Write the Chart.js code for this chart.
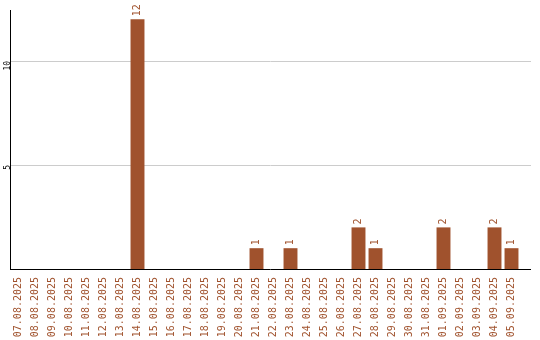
<!DOCTYPE html>
<html>
<head>
<meta charset="utf-8">
<script src="https://cdn.jsdelivr.net/npm/chart.js@4/dist/chart.umd.min.js"></script>
<style>
  html, body { margin: 0; padding: 0; background: #fff; }
  #wrap { width: 540px; height: 340px; position: relative; }
</style>
</head>
<body>
<div id="wrap"><canvas id="chart"></canvas></div>
<script>
const days = ['07.08.2025', '08.08.2025', '09.08.2025', '10.08.2025', '11.08.2025',
  '12.08.2025', '13.08.2025', '14.08.2025', '15.08.2025', '16.08.2025',
  '17.08.2025', '18.08.2025', '19.08.2025', '20.08.2025', '21.08.2025',
  '22.08.2025', '23.08.2025', '24.08.2025', '25.08.2025', '26.08.2025',
  '27.08.2025', '28.08.2025', '29.08.2025', '30.08.2025', '31.08.2025',
  '01.09.2025', '02.09.2025', '03.09.2025', '04.09.2025', '05.09.2025'];
const counts = [0, 0, 0, 0, 0, 0, 0, 12, 0, 0,
  0, 0, 0, 0, 1, 0, 1, 0, 0, 0,
  2, 1, 0, 0, 0, 2, 0, 0, 2, 1];
const yTicks = [5, 10];

const brown = '#a0522d';
const mono = 'DejaVu Sans Mono';

// grid lines and axis lines run a bit past the last bar
const linesPlugin = {
  id: 'lines',
  beforeDatasetsDraw(c) {
    const ctx = c.ctx;
    const y = c.scales.y;
    const area = c.chartArea;
    const right = 531;
    ctx.save();
    ctx.lineWidth = 1;
    ctx.strokeStyle = '#cccccc';
    yTicks.forEach(v => {
      const py = Math.round(y.getPixelForValue(v)) + 0.5;
      ctx.beginPath();
      ctx.moveTo(area.left, py);
      ctx.lineTo(right, py);
      ctx.stroke();
    });
    ctx.strokeStyle = '#000';
    const by = Math.round(y.getPixelForValue(0)) + 0.5;
    ctx.beginPath();
    ctx.moveTo(area.left, by);
    ctx.lineTo(right, by);
    ctx.stroke();
    ctx.beginPath();
    ctx.moveTo(area.left + 0.5, area.top);
    ctx.lineTo(area.left + 0.5, by);
    ctx.stroke();
    ctx.restore();
  }
};

// value labels above the bars
const valuesPlugin = {
  id: 'values',
  afterDatasetsDraw(c) {
    const ctx = c.ctx;
    const meta = c.getDatasetMeta(0);
    ctx.save();
    ctx.fillStyle = brown;
    ctx.font = '10px "' + mono + '"';
    ctx.textAlign = 'left';
    ctx.textBaseline = 'middle';
    meta.data.forEach((bar, i) => {
      if (!counts[i]) return;
      ctx.save();
      ctx.translate(bar.x, bar.y - 3);
      ctx.rotate(-Math.PI / 2);
      ctx.fillText(String(counts[i]), 0, 0);
      ctx.restore();
    });
    ctx.restore();
  }
};

const ctx = document.getElementById('chart').getContext('2d');
new Chart(ctx, {
  type: 'bar',
  data: {
    labels: days,
    datasets: [{
      data: counts,
      backgroundColor: brown,
      barPercentage: 0.82,
      categoryPercentage: 1
    }]
  },
  options: {
    responsive: true,
    maintainAspectRatio: false,
    animation: false,
    layout: { padding: { top: 10, right: 20, left: 0, bottom: 0 } },
    plugins: {
      legend: { display: false },
      tooltip: { enabled: false }
    },
    scales: {
      x: {
        grid: { display: false, drawTicks: false },
        border: { display: false },
        ticks: {
          autoSkip: false,
          minRotation: 90,
          maxRotation: 90,
          padding: 8,
          color: brown,
          font: { family: mono, size: 10 }
        },
        afterFit(s) { s.height = 71; }
      },
      y: {
        min: 0,
        max: 12.45,
        grid: { display: false, drawTicks: false },
        border: { display: false },
        afterBuildTicks(s) { s.ticks = yTicks.map(v => ({ value: v })); },
        ticks: {
          minRotation: 90,
          maxRotation: 90,
          padding: 2,
          color: '#000',
          font: { family: mono, size: 8 }
        },
        afterFit(s) { s.width = 10; }
      }
    }
  },
  plugins: [linesPlugin, valuesPlugin]
});
</script>
</body>
</html>
